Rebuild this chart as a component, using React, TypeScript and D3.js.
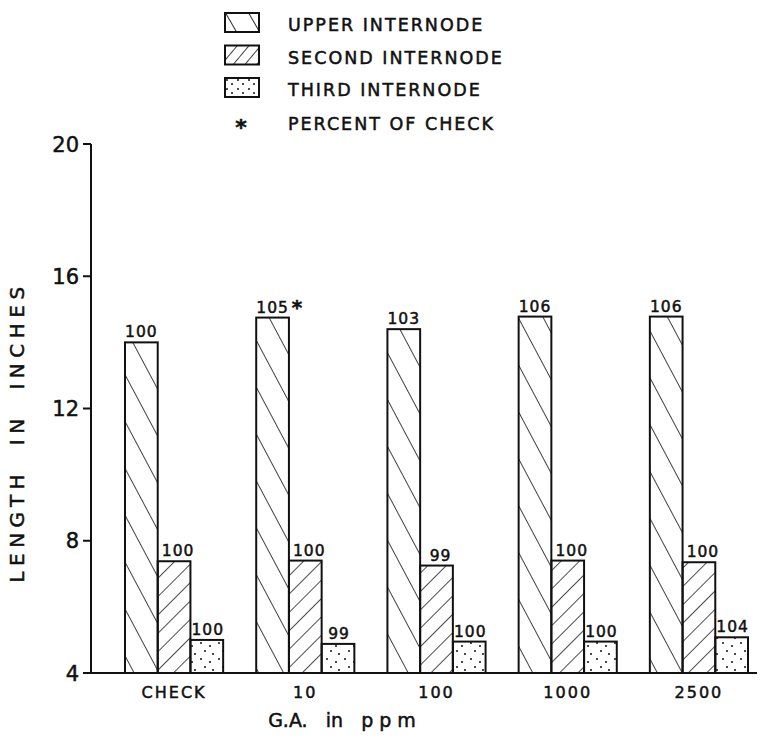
import * as d3 from 'd3';

const categories = ['CHECK', '10', '100', '1000', '2500'];
const seriesNames = ['UPPER INTERNODE', 'SECOND INTERNODE', 'THIRD INTERNODE'];
const upperValues = [14.0, 14.75, 14.4, 14.78, 14.78];
const secondValues = [7.38, 7.4, 7.25, 7.4, 7.35];
const thirdValues = [5.0, 4.88, 4.95, 4.95, 5.08];
const upperPct = ['100', '105', '103', '106', '106'];
const secondPct = ['100', '100', '99', '100', '100'];
const thirdPct = ['100', '99', '100', '100', '104'];
const yTicks = [4, 8, 12, 16, 20];

const FONT = '"DejaVu Sans", sans-serif';
// a thin stroke makes the lettering look like the inked original
const ink = { fill: '#111', stroke: '#111', strokeWidth: 0.5, fontFamily: FONT };

export default function App() {
  const width = 764, height = 742;

  // scales
  const y = d3.scaleLinear().domain([4, 20]).range([673, 144]);
  const x0 = d3.scaleBand().domain(categories).range([125, 748]).paddingInner(0.252).paddingOuter(0);
  const x1 = d3.scaleBand().domain(seriesNames).range([0, x0.bandwidth()]);
  const bw = x1.bandwidth();

  const series = [
    { name: seriesNames[0], values: upperValues, pct: upperPct, fill: 'url(#hatchUpper)', dx: 0 },
    { name: seriesNames[1], values: secondValues, pct: secondPct, fill: 'url(#hatchSecond)', dx: 4 },
    { name: seriesNames[2], values: thirdValues, pct: thirdPct, fill: 'url(#dots)', dx: 1 },
  ];

  const legendFills = ['url(#hatchUpperL)', 'url(#hatchSecondL)', 'url(#dotsL)'];

  return (
    <svg width={width} height={height} style={{ position: 'absolute', left: 0, top: 0, background: '#fff' }}>
      <defs>
        <pattern id="hatchUpper" patternUnits="userSpaceOnUse" width={22} height={40} patternTransform="rotate(-28)">
          <line x1={0} y1={0} x2={0} y2={40} stroke="#111" strokeWidth={1.6} />
        </pattern>
        <pattern id="hatchSecond" patternUnits="userSpaceOnUse" width={13} height={40} patternTransform="rotate(45)">
          <line x1={0} y1={0} x2={0} y2={40} stroke="#111" strokeWidth={1.5} />
        </pattern>
        <pattern id="dots" patternUnits="userSpaceOnUse" width={18} height={16}>
          <circle cx={3} cy={3} r={1} fill="#111" />
          <circle cx={12} cy={6} r={1} fill="#111" />
          <circle cx={7} cy={11} r={1} fill="#111" />
          <circle cx={15} cy={14} r={1} fill="#111" />
        </pattern>
        <pattern id="hatchUpperL" patternUnits="userSpaceOnUse" width={20} height={40} patternTransform="rotate(-30)">
          <line x1={0} y1={0} x2={0} y2={40} stroke="#111" strokeWidth={1.8} />
        </pattern>
        <pattern id="hatchSecondL" patternUnits="userSpaceOnUse" width={9} height={40} patternTransform="rotate(40)">
          <line x1={0} y1={0} x2={0} y2={40} stroke="#111" strokeWidth={1.6} />
        </pattern>
        <pattern id="dotsL" patternUnits="userSpaceOnUse" width={11} height={9}>
          <circle cx={2} cy={2} r={1} fill="#111" />
          <circle cx={7} cy={6} r={1} fill="#111" />
        </pattern>
      </defs>

      {/* legend */}
      {seriesNames.map((name, i) => (
        <g key={name} transform={`translate(225,${13 + i * 32.5})`}>
          <rect x={0} y={0} width={34} height={19} fill={legendFills[i]} stroke="#111" strokeWidth={2} />
          <text x={63} y={18} fontSize={17.5} letterSpacing={2} {...ink}>{name}</text>
        </g>
      ))}
      <text x={241} y={135} textAnchor="middle" fontSize={22} fontWeight="bold" {...ink}>*</text>
      <text x={288} y={130} fontSize={17.5} letterSpacing={2} {...ink}>PERCENT OF CHECK</text>

      {/* bars */}
      {series.map((s) => (
        <g key={s.name}>
          {categories.map((c, i) => {
            const bx = (x0(c) as number) + (x1(s.name) as number);
            const by = y(s.values[i]);
            return (
              <g key={c}>
                <rect x={bx} y={by} width={bw} height={y(4) - by} fill={s.fill} stroke="#111" strokeWidth={2} />
                <text x={bx + bw / 2 + s.dx} y={by - 5} textAnchor="middle" fontSize={15.5} letterSpacing={1} {...ink}>{s.pct[i]}</text>
              </g>
            );
          })}
        </g>
      ))}
      <text x={(x0('10') as number) + bw + 8} y={y(upperValues[1]) - 4} textAnchor="middle" fontSize={20} fontWeight="bold" {...ink}>*</text>

      {/* y axis */}
      <line x1={91} y1={y(20)} x2={91} y2={y(4)} stroke="#111" strokeWidth={2} />
      <line x1={83} y1={y(4)} x2={757} y2={y(4)} stroke="#111" strokeWidth={2} />
      {yTicks.map((t) => (
        <g key={t}>
          <line x1={83} y1={y(t)} x2={91} y2={y(t)} stroke="#111" strokeWidth={2} />
          <text x={79} y={y(t) + 7.5} textAnchor="end" fontSize={21} {...ink}>{t}</text>
        </g>
      ))}
      <text transform={`translate(24,432) rotate(-90)`} textAnchor="middle" fontSize={20} letterSpacing={5.5} xmlSpace="preserve" {...ink}>LENGTH  IN  INCHES</text>

      {/* x labels */}
      {categories.map((c) => (
        <text key={c} x={(x0(c) as number) + x0.bandwidth() / 2} y={698} textAnchor="middle" fontSize={16} letterSpacing={2} {...ink}>{c}</text>
      ))}
      <text x={342} y={727} textAnchor="middle" fontSize={19} xmlSpace="preserve" {...ink}>G.A.   in   p p m</text>
    </svg>
  );
}
